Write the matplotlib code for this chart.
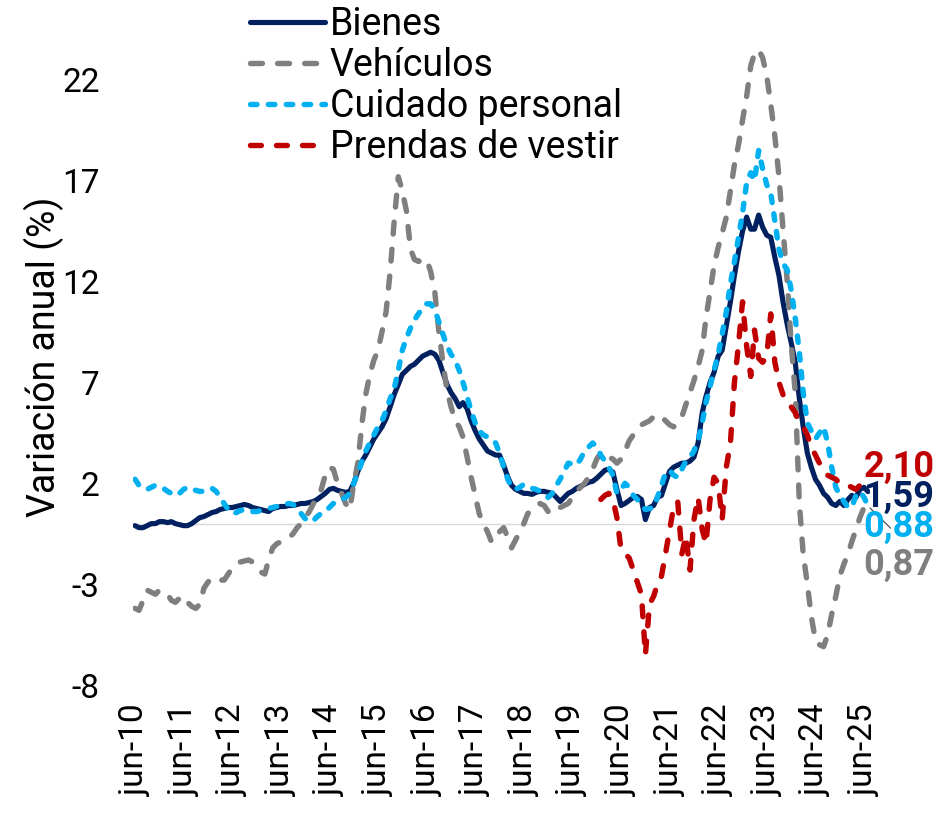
import numpy as np
import pandas as pd
import matplotlib
matplotlib.use("Agg")
import matplotlib.pyplot as plt

plt.rcParams['font.family'] = ['Roboto', 'DejaVu Sans']

# Monthly data, jun-2010 .. jul-2025
start_month = "2010-06-01"
n_months = 182

bienes = [
    -0.1, -0.2, -0.2, -0.1, 0.0, 0.0, 0.1, 0.1, 0.05, 0.1, 0.0, -0.05,
    -0.1, -0.1, 0.0, 0.15, 0.3, 0.35, 0.45, 0.55, 0.6, 0.7, 0.75, 0.8,
    0.8, 0.85, 0.9, 0.95, 0.9, 0.8, 0.75, 0.7, 0.65, 0.6, 0.75, 0.8,
    0.85, 0.85, 0.9, 0.9, 0.95, 1.0, 1.0, 1.05, 1.1, 1.2, 1.35, 1.5,
    1.7, 1.75, 1.65, 1.6, 1.55, 1.6, 2.0, 2.6, 3.1, 3.4, 3.8, 4.2,
    4.5, 4.8, 5.2, 5.8, 6.4, 6.9, 7.4, 7.6, 7.8, 7.9, 8.1, 8.3,
    8.4, 8.5, 8.4, 8.1, 7.5, 6.9, 6.5, 6.2, 5.8, 6.0, 5.7, 5.1,
    4.6, 4.2, 3.9, 3.6, 3.5, 3.4, 3.4, 2.9, 2.3, 1.9, 1.7, 1.6,
    1.5, 1.5, 1.45, 1.55, 1.6, 1.6, 1.55, 1.5, 1.3, 1.1, 1.3, 1.5,
    1.6, 1.75, 1.85, 1.95, 2.05, 2.1, 2.25, 2.45, 2.65, 2.7, 2.55, 1.7,
    0.9, 1.0, 1.15, 1.3, 1.35, 1.2, 0.2, 0.8, 0.9, 1.3, 1.4, 2.0,
    2.6, 2.8, 2.9, 3.0, 3.0, 3.1, 3.3, 4.0, 5.5, 6.3, 7.0, 7.5,
    8.3, 8.6, 9.8, 11.0, 12.3, 13.5, 14.5, 15.2, 14.6, 14.6, 15.3, 14.7,
    14.3, 14.2, 13.2, 12.3, 11.0, 9.9, 9.0, 8.0, 6.2, 4.8, 3.5, 2.8,
    2.2, 1.9, 1.5, 1.3, 1.0, 0.9, 1.1, 0.9, 1.2, 1.4, 1.3, 1.7,
    1.8, 1.59,
]

vehiculos = [
    -4.2, -4.3, -3.8, -3.3, -3.4, -3.5, -3.3, -3.4, -3.5, -3.8, -3.9, -3.7,
    -3.6, -3.9, -4.1, -4.2, -4.0, -3.2, -2.9, -2.7, -2.7, -2.8, -2.8, -2.5,
    -2.2, -2.1, -1.9, -1.85, -1.8, -1.9, -2.2, -2.4, -2.5, -1.8, -1.2, -1.0,
    -0.9, -0.8, -0.7, -0.5, -0.2, 0.0, 0.3, 0.6, 1.0, 1.3, 1.7, 2.4,
    2.8, 2.7, 2.0, 1.5, 1.0, 0.7, 2.0, 3.0, 5.0, 6.4, 7.4, 8.1,
    8.6, 9.5, 10.5, 12.5, 15.0, 17.2, 16.5, 15.5, 13.6, 13.1, 13.0, 13.1,
    13.1, 12.5, 11.5, 9.5, 8.0, 6.6, 5.8, 5.1, 4.8, 4.3, 3.3, 2.3,
    1.4, 0.5, 0.0, -0.4, -0.9, -0.8, -0.4, -0.2, -0.7, -1.2, -0.8, -0.4,
    0.0, 0.5, 0.7, 0.8, 1.0, 0.9, 0.6, 0.5, 0.6, 0.8, 0.9, 1.0,
    1.3, 1.6, 1.8, 2.0, 2.3, 2.7, 3.2, 3.5, 3.4, 3.3, 3.2, 3.0,
    3.2, 3.6, 4.1, 4.4, 4.7, 4.9, 5.0, 5.1, 5.3, 5.4, 5.3, 5.1,
    4.9, 4.8, 5.0, 5.3, 5.9, 6.5, 7.1, 7.8, 8.6, 10.2, 11.5, 12.8,
    13.7, 14.4, 15.2, 16.5, 17.8, 18.8, 20.0, 21.2, 22.7, 23.3, 23.5, 23.1,
    22.2, 20.8, 19.2, 17.2, 14.6, 12.1, 9.0, 6.5, 1.0, -1.5, -3.0, -4.6,
    -5.8, -6.0, -6.1, -5.5, -4.5, -3.6, -2.6, -2.0, -1.5, -0.9, -0.3, 0.3,
    0.8, 0.87,
]

cuidado = [
    2.2, 1.9, 1.75, 1.7, 1.8, 1.9, 1.85, 1.75, 1.6, 1.5, 1.4, 1.5,
    1.7, 1.8, 1.75, 1.65, 1.6, 1.6, 1.7, 1.75, 1.6, 1.3, 1.0, 0.7,
    0.5, 0.55, 0.65, 0.7, 0.65, 0.6, 0.6, 0.65, 0.7, 0.75, 0.8, 0.85,
    0.9, 0.95, 1.0, 0.95, 0.75, 0.5, 0.25, 0.1, 0.15, 0.35, 0.5, 0.6,
    0.8, 1.0, 1.1, 1.2, 1.3, 1.5, 2.0, 2.5, 3.1, 3.6, 4.0, 4.4,
    4.8, 5.1, 5.6, 6.2, 6.7, 7.6, 8.6, 9.2, 9.7, 10.1, 10.4, 10.7,
    10.9, 10.9, 10.6, 10.0, 9.4, 8.8, 8.4, 8.1, 7.6, 7.0, 6.3, 5.6,
    5.0, 4.6, 4.4, 4.3, 4.2, 4.0, 3.5, 2.8, 2.2, 1.8, 1.7, 1.8,
    1.95, 1.85, 1.75, 1.7, 1.6, 1.4, 1.3, 1.5, 1.9, 2.2, 2.6, 3.0,
    2.95, 2.9, 3.2, 3.6, 3.8, 4.0, 3.8, 3.4, 3.1, 2.8, 2.4, 1.5,
    1.7, 2.0, 1.8, 1.4, 1.2, 0.9, 0.7, 0.75, 0.8, 1.3, 1.9, 2.5,
    2.65, 2.4, 2.3, 2.7, 3.1, 3.3, 3.6, 4.1, 5.0, 6.0, 6.8, 7.6,
    8.4, 9.4, 10.5, 11.9, 13.0, 14.2, 15.4, 16.9, 17.4, 17.0, 18.5, 17.6,
    16.8, 16.4, 15.0, 13.6, 12.9, 12.6, 11.6, 10.2, 8.5, 6.5, 5.0, 4.6,
    4.2, 4.5, 4.8, 4.0, 2.8, 1.8, 1.4, 1.1, 0.8, 0.8, 1.4, 1.6,
    1.3, 0.88,
]

# Prendas de vestir starts in jan-2020
prendas_start = "2020-01-01"
prendas = [
    1.2, 1.4, 1.5, 1.2, 0.3, -1.3, -1.5, -1.7, -2.3, -2.9, -3.5, -6.5,
    -4.0, -3.6, -3.0, -2.6, -1.5, -0.3, 0.8, 1.1, -1.5, -0.6, -2.3, 0.2,
    1.3, -0.3, -1.0, 1.2, 2.3, 2.0, 0.2, 2.8, 4.0, 7.0, 8.9, 11.0,
    8.8, 7.3, 9.6, 8.2, 8.0, 8.3, 10.4, 8.0, 7.0, 6.4, 6.0, 5.8,
    5.5, 5.0, 4.8, 4.4, 3.8, 3.4, 3.0, 2.7, 2.4, 2.3, 2.2, 2.0,
    2.0, 1.9, 1.8, 1.7, 1.9, 2.2, 2.10,
]

series_names = ["Bienes", "Vehículos", "Cuidado personal", "Prendas de vestir"]
last_labels = ["1,59", "0,87", "0,88", "2,10"]
tick_labels = ["jun-%02d" % y for y in range(10, 26)]
yticks = [-8, -3, 2, 7, 12, 17, 22]

dates = pd.date_range(start_month, periods=n_months, freq="MS")
prendas_dates = pd.date_range(prendas_start, periods=len(prendas), freq="MS")

c_bienes = "#002060"
c_veh = "#7F7F7F"
c_cui = "#00B0F0"
c_pre = "#C00000"

fig = plt.figure(figsize=(9.37, 8.13), dpi=100)
ax = fig.add_axes([133 / 937, 1 - 685 / 813, 737 / 937, (685 - 29.5) / 813])

ax.axhline(0, color="#D9D9D9", lw=1.0, zorder=1)

lw_solid = 3.7
lw = 3.9
ax.plot(dates, bienes, color=c_bienes, lw=lw_solid, solid_capstyle="round",
        solid_joinstyle="round", label=series_names[0], zorder=3)
ax.plot(dates, vehiculos, color=c_veh, lw=lw, dashes=(2.2, 2.8),
        dash_capstyle="round", label=series_names[1], zorder=4)
ax.plot(dates, cuidado, color=c_cui, lw=lw, dashes=(1.2, 2.1),
        dash_capstyle="round", label=series_names[2], zorder=5)
ax.plot(prendas_dates, prendas, color=c_pre, lw=lw, dashes=(2.0, 2.8),
        dash_capstyle="round", label=series_names[3], zorder=6)

half = pd.Timedelta(days=15)
ax.set_xlim(dates[0] - half, dates[-1] + half)
ax.set_ylim(-8, 24.5)

tick_dates = pd.date_range("2010-06-01", periods=len(tick_labels), freq="12MS")
ax.set_xticks(tick_dates)
ax.set_xticklabels(tick_labels, rotation=90, fontsize=24)
ax.set_yticks(yticks)
ax.set_yticklabels([str(v) for v in yticks], fontsize=24)
ax.tick_params(axis="x", length=0, pad=14)
ax.tick_params(axis="y", length=0, pad=24)
for s in ax.spines.values():
    s.set_visible(False)

ax.set_ylabel("Variación anual (%)", fontsize=27)
ax.yaxis.set_label_coords(-0.094, 0.5)

# End-of-series labels
ends = [
    (last_labels[3], c_pre, 2.8),
    (last_labels[0], c_bienes, 1.32),
    (last_labels[2], c_cui, -0.17),
    (last_labels[1], c_veh, -2.05),
]
x_text = dates[-1] - pd.Timedelta(days=35)
for txt, col, ypos in ends:
    ax.text(x_text, ypos, txt, color=col, fontsize=26, fontweight="bold",
            ha="left", va="center", clip_on=False, zorder=7)

# leader line for Vehículos
ax.annotate("", xy=(dates[-1], vehiculos[-1]),
            xytext=(dates[-1] + pd.Timedelta(days=185), -0.32),
            arrowprops=dict(arrowstyle="-", color="#404040", lw=0.8),
            annotation_clip=False)

fig.legend(loc="upper left", bbox_to_anchor=(250 / 937, 1 - 6 / 813),
           frameon=False, fontsize=27, handlelength=2.0, handletextpad=0.13,
           labelspacing=0.11, borderpad=0, borderaxespad=0)

fig.savefig("out.png", dpi=100)
